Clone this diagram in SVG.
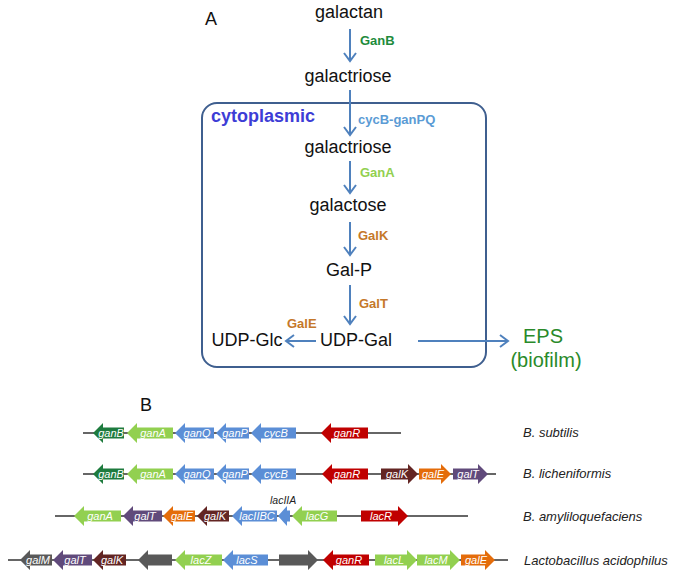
<svg xmlns="http://www.w3.org/2000/svg" width="675" height="573" viewBox="0 0 675 573">
<style>
text{font-family:"Liberation Sans",Arial,sans-serif}
.met{font-size:18px;fill:#111;text-anchor:middle}
.enz{font-size:13px;font-weight:bold}
.green{fill:#1e8b3c}.lgreen{fill:#92d050}.blue{fill:#5b9bd5}.orange{fill:#c5782a}
.conn{stroke:#4f81bd;stroke-width:2;fill:none;marker-end:url(#ah)}
.dna{stroke:#333;stroke-width:1.6}
.g{font-size:11px;font-style:italic;fill:#fff;text-anchor:middle}
.sp{font-size:13px;font-style:italic;fill:#222}
.c-dg{fill:#1e7b3e}.c-lg{fill:#92d050}.c-bl{fill:#5b8ed6}.c-rd{fill:#c00000}
.c-br{fill:#632523}.c-or{fill:#e46c0a}.c-pu{fill:#604a7b}.c-gy{fill:#595959}
</style>
<defs>
<marker id="ah" markerUnits="userSpaceOnUse" markerWidth="12" markerHeight="14" refX="10" refY="7" orient="auto">
<path d="M2,1 L10,7 L2,13" fill="none" stroke="#4f81bd" stroke-width="2"/>
</marker>
</defs>

<text x="205" y="25" font-size="18" fill="#111">A</text>
<text x="140" y="411" font-size="18" fill="#111">B</text>

<g id="cytoplasm">
<rect x="202" y="103" width="284" height="264" rx="15" fill="none" stroke="#3f5f8f" stroke-width="2"/>
<text x="211" y="122" font-size="18" font-weight="bold" fill="#3d3dd6">cytoplasmic</text>
</g>

<g id="n-galactan"><text class="met" x="349" y="18" font-size="20">galactan</text></g>
<g id="n-galactriose-out"><text class="met" x="348" y="82">galactriose</text></g>
<g id="n-galactriose-in"><text class="met" x="348" y="153">galactriose</text></g>
<g id="n-galactose"><text class="met" x="348" y="211">galactose</text></g>
<g id="n-galp"><text class="met" x="349" y="276">Gal-P</text></g>
<g id="n-udpgal"><text class="met" x="356" y="346">UDP-Gal</text></g>
<g id="n-udpglc"><text class="met" x="247" y="346">UDP-Glc</text></g>
<g id="n-eps">
<text x="543" y="343" font-size="20" fill="#2a8a2a" text-anchor="middle">EPS</text>
<text x="546" y="367" font-size="20" fill="#2a8a2a" text-anchor="middle">(biofilm)</text>
</g>

<g id="connectors">
<line class="conn" x1="350" y1="29" x2="350" y2="61"/>
<line class="conn" x1="350" y1="90" x2="350" y2="135"/>
<line class="conn" x1="350" y1="161" x2="350" y2="193"/>
<line class="conn" x1="350" y1="222" x2="350" y2="255"/>
<line class="conn" x1="350" y1="285" x2="350" y2="324"/>
<line class="conn" x1="316" y1="341" x2="286" y2="341"/>
<line class="conn" x1="418" y1="341" x2="508" y2="341"/>
<text class="enz green" x="360" y="45">GanB</text>
<text class="enz blue" x="358" y="124">cycB-ganPQ</text>
<text class="enz lgreen" x="360" y="177">GanA</text>
<text class="enz orange" x="358" y="240">GalK</text>
<text class="enz orange" x="359" y="308">GalT</text>
<text class="enz orange" x="287" y="328">GalE</text>
</g>

<g id="row-subtilis">
<line class="dna" x1="83" y1="433" x2="401" y2="433"/>
<path class="c-dg" d="M93,433 L103,423 L103,427.5 L124,427.5 L124,438.5 L103,438.5 L103,443 Z"/>
<path class="c-lg" d="M127,433 L137,423 L137,427.5 L173,427.5 L173,438.5 L137,438.5 L137,443 Z"/>
<path class="c-bl" d="M175,433 L185,423 L185,427.5 L214,427.5 L214,438.5 L185,438.5 L185,443 Z"/>
<path class="c-bl" d="M216,433 L226,423 L226,427.5 L249,427.5 L249,438.5 L226,438.5 L226,443 Z"/>
<path class="c-bl" d="M251,433 L261,423 L261,427.5 L296,427.5 L296,438.5 L261,438.5 L261,443 Z"/>
<path class="c-rd" d="M321,433 L331,423 L331,427.5 L368,427.5 L368,438.5 L331,438.5 L331,443 Z"/>
<text class="g" x="111" y="437">ganB</text>
<text class="g" x="153" y="437">ganA</text>
<text class="g" x="197" y="437">ganQ</text>
<text class="g" x="235" y="437">ganP</text>
<text class="g" x="276" y="437">cycB</text>
<text class="g" x="347" y="437">ganR</text>
<text class="sp" x="523" y="437">B. subtilis</text>
</g>

<g id="row-licheniformis">
<line class="dna" x1="83" y1="474" x2="496" y2="474"/>
<path class="c-dg" d="M93,474 L103,464 L103,468.5 L124,468.5 L124,479.5 L103,479.5 L103,484 Z"/>
<path class="c-lg" d="M127,474 L137,464 L137,468.5 L173,468.5 L173,479.5 L137,479.5 L137,484 Z"/>
<path class="c-bl" d="M175,474 L185,464 L185,468.5 L214,468.5 L214,479.5 L185,479.5 L185,484 Z"/>
<path class="c-bl" d="M216,474 L226,464 L226,468.5 L249,468.5 L249,479.5 L226,479.5 L226,484 Z"/>
<path class="c-bl" d="M251,474 L261,464 L261,468.5 L296,468.5 L296,479.5 L261,479.5 L261,484 Z"/>
<path class="c-rd" d="M322,474 L332,464 L332,468.5 L368,468.5 L368,479.5 L332,479.5 L332,484 Z"/>
<path class="c-br" d="M418,474 L408,464 L408,468.5 L381,468.5 L381,479.5 L408,479.5 L408,484 Z"/>
<path class="c-or" d="M451,474 L441,464 L441,468.5 L419,468.5 L419,479.5 L441,479.5 L441,484 Z"/>
<path class="c-pu" d="M488,474 L478,464 L478,468.5 L453,468.5 L453,479.5 L478,479.5 L478,484 Z"/>
<text class="g" x="111" y="478">ganB</text>
<text class="g" x="153" y="478">ganA</text>
<text class="g" x="197" y="478">ganQ</text>
<text class="g" x="235" y="478">ganP</text>
<text class="g" x="276" y="478">cycB</text>
<text class="g" x="347" y="478">ganR</text>
<text class="g" x="397" y="478">galK</text>
<text class="g" x="433" y="478">galE</text>
<text class="g" x="468" y="478">galT</text>
<text class="sp" x="523" y="478">B. licheniformis</text>
</g>

<g id="row-amyloliquefaciens">
<line class="dna" x1="55" y1="516" x2="468" y2="516"/>
<path class="c-lg" d="M74,516 L84,506 L84,510.5 L121,510.5 L121,521.5 L84,521.5 L84,526 Z"/>
<path class="c-pu" d="M123,516 L133,506 L133,510.5 L162,510.5 L162,521.5 L133,521.5 L133,526 Z"/>
<path class="c-or" d="M163,516 L173,506 L173,510.5 L195,510.5 L195,521.5 L173,521.5 L173,526 Z"/>
<path class="c-br" d="M197,516 L207,506 L207,510.5 L229,510.5 L229,521.5 L207,521.5 L207,526 Z"/>
<path class="c-bl" d="M232,516 L242,506 L242,510.5 L277,510.5 L277,521.5 L242,521.5 L242,526 Z"/>
<path class="c-bl" d="M278,516 L287,506 L287,510.5 L290,510.5 L290,521.5 L287,521.5 L287,526 Z"/>
<path class="c-lg" d="M292,516 L302,506 L302,510.5 L337,510.5 L337,521.5 L302,521.5 L302,526 Z"/>
<path class="c-rd" d="M408,516 L398,506 L398,510.5 L361,510.5 L361,521.5 L398,521.5 L398,526 Z"/>
<text class="g" x="100" y="520">ganA</text>
<text class="g" x="145" y="520">galT</text>
<text class="g" x="182" y="520">galE</text>
<text class="g" x="215" y="520">galK</text>
<text class="g" x="257" y="520">lacIIBC</text>
<text class="g" x="317" y="520">lacG</text>
<text class="g" x="381" y="520">lacR</text>
<text x="270" y="504" font-size="10.5" font-style="italic" fill="#222">lacIIA</text>
<text class="sp" x="523" y="521">B. amyliloquefaciens</text>
</g>

<g id="row-acidophilus">
<line class="dna" x1="8" y1="560" x2="508" y2="560"/>
<path class="c-gy" d="M20,560 L30,550 L30,554.5 L52,554.5 L52,565.5 L30,565.5 L30,570 Z"/>
<path class="c-pu" d="M53,560 L63,550 L63,554.5 L92,554.5 L92,565.5 L63,565.5 L63,570 Z"/>
<path class="c-br" d="M93,560 L103,550 L103,554.5 L126,554.5 L126,565.5 L103,565.5 L103,570 Z"/>
<path class="c-gy" d="M138,560 L148,550 L148,554.5 L172,554.5 L172,565.5 L148,565.5 L148,570 Z"/>
<path class="c-lg" d="M175,560 L185,550 L185,554.5 L222,554.5 L222,565.5 L185,565.5 L185,570 Z"/>
<path class="c-bl" d="M223,560 L233,550 L233,554.5 L268,554.5 L268,565.5 L233,565.5 L233,570 Z"/>
<path class="c-gy" d="M318,560 L308,550 L308,554.5 L279,554.5 L279,565.5 L308,565.5 L308,570 Z"/>
<path class="c-rd" d="M323,560 L333,550 L333,554.5 L369,554.5 L369,565.5 L333,565.5 L333,570 Z"/>
<path class="c-lg" d="M417,560 L407,550 L407,554.5 L375,554.5 L375,565.5 L407,565.5 L407,570 Z"/>
<path class="c-lg" d="M460,560 L450,550 L450,554.5 L417,554.5 L417,565.5 L450,565.5 L450,570 Z"/>
<path class="c-or" d="M495,560 L485,550 L485,554.5 L461,554.5 L461,565.5 L485,565.5 L485,570 Z"/>
<text class="g" x="38" y="564">galM</text>
<text class="g" x="75" y="564">galT</text>
<text class="g" x="112" y="564">galK</text>
<text class="g" x="201" y="564">lacZ</text>
<text class="g" x="247" y="564">lacS</text>
<text class="g" x="349" y="564">ganR</text>
<text class="g" x="394" y="564">lacL</text>
<text class="g" x="436" y="564">lacM</text>
<text class="g" x="476" y="564">galE</text>
<text class="sp" x="524" y="565">Lactobacillus acidophilus</text>
</g>
</svg>
